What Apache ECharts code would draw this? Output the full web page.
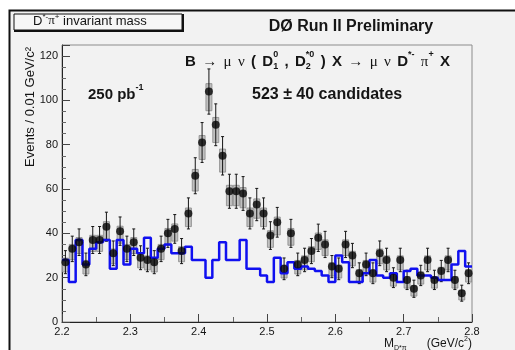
<!DOCTYPE html>
<html>
<head>
<meta charset="utf-8">
<script src="https://cdn.jsdelivr.net/npm/echarts@6/dist/echarts.min.js"></script>
<style>
  html, body { margin: 0; padding: 0; background: #ffffff; }
  #chart { width: 515px; height: 350px; }
</style>
</head>
<body>
<div id="chart"></div>
<script>
// D*- pi+ invariant mass, 60 bins of 0.01 GeV/c^2 from 2.20 to 2.80
const massLow = 2.20;
const binWidth = 0.01;

// Events per bin (data points)
const dataCounts = [
  27, 33, 36, 26, 37, 37, 43, 31, 41, 33,
  36, 29, 28, 27, 33, 40, 42, 32, 49, 66,
  81, 104, 89, 75, 59, 59, 58, 49, 53, 49,
  39, 45, 24, 40, 26, 28, 32, 38, 35, 25,
  24, 35, 30, 22, 26, 22, 31, 28, 20, 28,
  19, 15, 21, 28, 19, 23, 28, 19, 13, 22
];

// Background shape (blue histogram)
const bkgCounts = [
  28, 18, 37, 26, 33, 36, 37, 24, 37, 26,
  33, 31, 38, 29, 33, 35, 31, 31, 34, 28,
  28, 20, 28, 36, 28, 28, 37, 24, 24, 21,
  18, 29, 22, 27, 24, 25, 24, 23, 21, 18,
  30, 27, 18, 18, 22, 28, 21, 20, 22, 18,
  23, 24, 21, 21, 20, 19, 19, 26, 32, 25
];

const xTicks = [2.2, 2.3, 2.4, 2.5, 2.6, 2.7, 2.8];
const yTicks = [0, 20, 40, 60, 80, 100, 120];

const nBins = dataCounts.length;
const binCenter = i => +(massLow + (i + 0.5) * binWidth).toFixed(4);
const binEdge = i => +(massLow + i * binWidth).toFixed(4);

// points with Poisson uncertainty
const pointData = dataCounts.map((n, i) => [binCenter(i), n, Math.sqrt(n)]);
// step outline: value of each bin starting at its lower edge, closed at the upper edge
const stepData = bkgCounts.map((n, i) => [binEdge(i), n]);
stepData.push([binEdge(nBins), bkgCounts[nBins - 1]]);

const INK = '#151515';
const SANS = '"Liberation Sans", Arial, sans-serif';
const SERIF = '"Liberation Serif", "Times New Roman", serif';

// Lays out a run of text pieces (with super/subscripts) as graphic text elements.
// Pieces flagged with g get an equal share of the leftover space in front of them
// when a total width is requested.
const measureCtx = document.createElement('canvas').getContext('2d');
function fontStr(p) {
  return (p.weight || 'bold') + ' ' + p.size + 'px ' + (p.family || SANS);
}
function richRun(pieces, x0, y, width, z) {
  const widths = pieces.map(p => { measureCtx.font = fontStr(p); return measureCtx.measureText(p.t).width; });
  let nat = 0, lastW = 0, gaps = 0;
  pieces.forEach((p, i) => {
    if (p.stack) { const adv = Math.max(lastW, widths[i]); nat += adv - lastW; lastW = adv; }
    else { nat += widths[i]; lastW = widths[i]; }
    if (p.g) gaps++;
  });
  const extra = width && gaps ? Math.max(0, (width - nat) / gaps) : 0;
  let x = x0, prevX = x0, prevW = 0;
  const out = [];
  pieces.forEach((p, i) => {
    const w = widths[i];
    let px;
    if (p.stack) {
      px = prevX;
      const adv = Math.max(prevW, w);
      x = prevX + adv;
      prevW = adv;
    } else {
      if (p.g) x += extra;
      px = x; prevX = x; prevW = w; x += w;
    }
    out.push({
      type: 'text', x: px, y: y + (p.dy || 0), z: z || 10, silent: true,
      style: { text: p.t, font: fontStr(p), fill: INK, textAlign: 'left', textVerticalAlign: 'middle', verticalAlign: 'middle' }
    });
  });
  return out;
}

const big = 15, sm = 9, up = -7, dn = 5;
const formula = richRun([
  { t: 'B', size: big },
  { t: '\u2192', size: big, weight: 'normal', family: SERIF, g: 1 },
  { t: '\u03bc', size: big, weight: 'normal', family: SERIF, g: 1 },
  { t: '\u03bd', size: big, weight: 'normal', family: SERIF, g: 1 },
  { t: '(', size: big, g: 1 },
  { t: 'D', size: big, g: 1 },
  { t: '0', size: sm, dy: up },
  { t: '1', size: sm, dy: dn, stack: true },
  { t: ',', size: big, g: 1 },
  { t: 'D', size: big, g: 1 },
  { t: '*0', size: sm, dy: up },
  { t: '2', size: sm, dy: dn, stack: true },
  { t: ')', size: big, g: 1 },
  { t: 'X', size: big, g: 1 },
  { t: '\u2192', size: big, weight: 'normal', family: SERIF, g: 1 },
  { t: '\u03bc', size: big, weight: 'normal', family: SERIF, g: 1 },
  { t: '\u03bd', size: big, weight: 'normal', family: SERIF, g: 1 },
  { t: 'D', size: big, g: 1 },
  { t: '*-', size: sm, dy: up },
  { t: '\u03c0', size: big, weight: 'normal', family: SERIF, g: 1 },
  { t: '+', size: sm, dy: up },
  { t: 'X', size: big, g: 1 }
], 185, 62, 265);

const lumi = richRun([
  { t: '250 pb', size: 15 },
  { t: '-1', size: 9, dy: -7 }
], 88, 95);

const boxTitle = richRun([
  { t: 'D', size: 13, weight: 'normal' },
  { t: '*-', size: 8, weight: 'normal', dy: -4 },
  { t: '\u03c0', size: 13, weight: 'normal', family: SERIF },
  { t: '+', size: 8, weight: 'normal', dy: -4 },
  { t: ' invariant mass', size: 13, weight: 'normal' }
], 33, 21, 0, 12);

const xTitle = richRun([
  { t: 'M', size: 12, weight: 'normal' },
  { t: 'D*\u03c0', size: 7, weight: 'normal', dy: 4 },
  { t: '(GeV/c', size: 12, weight: 'normal', g: 1 },
  { t: '2', size: 7, weight: 'normal', dy: -5 },
  { t: ')', size: 12, weight: 'normal' }
], 384, 344, 88);

const chart = echarts.init(document.getElementById('chart'), null, { renderer: 'canvas' });

chart.setOption({
  animation: false,
  backgroundColor: '#ffffff',
  grid: { left: 62, right: 43, top: 45, bottom: 28, show: true, borderColor: '#8c8c8c', borderWidth: 1, backgroundColor: 'transparent' },
  xAxis: {
    type: 'value', min: xTicks[0], max: xTicks[xTicks.length - 1], interval: 0.1,
    axisLine: { show: true, onZero: false, lineStyle: { color: '#222', width: 1 } },
    axisTick: { show: true, inside: true, length: 8, lineStyle: { color: '#444' } },
    minorTick: { show: true, splitNumber: 2, length: 5, lineStyle: { color: '#666' } },
    splitLine: { show: false },
    axisLabel: { margin: 4, fontSize: 11, fontFamily: SANS, color: INK, formatter: v => v.toFixed(1) }
  },
  yAxis: {
    type: 'value', min: yTicks[0], max: 125, interval: 20,
    axisLine: { show: true, onZero: false, lineStyle: { color: '#222', width: 1 } },
    axisTick: { show: true, inside: true, length: 8, lineStyle: { color: '#444' } },
    minorTick: { show: true, splitNumber: 4, length: 4, lineStyle: { color: '#666' } },
    splitLine: { show: false },
    axisLabel: {
      margin: 4, fontSize: 11, fontFamily: SANS, color: INK, showMaxLabel: false,
      formatter: v => (yTicks.indexOf(v) >= 0 ? String(v) : '')
    }
  },
  graphic: [
    // panel background with frame on the top and left
    { type: 'rect', z: -100, silent: true, shape: { x: 9.5, y: 10.5, width: 530, height: 360 },
      style: { fill: '#f2f2f2', stroke: '#111', lineWidth: 2 } },
    // histogram title box
    { type: 'rect', z: 11, silent: true, shape: { x: 14, y: 14, width: 168, height: 16 },
      style: { fill: '#f6f6f6', stroke: '#111', lineWidth: 1 } },
    { type: 'polyline', z: 11, silent: true, shape: { points: [[183, 14], [183, 31], [14, 31]] },
      style: { stroke: '#111', lineWidth: 2, fill: null } },
    ...boxTitle,
    { type: 'text', x: 351, y: 27, z: 10, silent: true,
      style: { text: 'D\u00d8 Run II Preliminary', font: 'bold 16px ' + SANS, fill: INK, textAlign: 'center', textVerticalAlign: 'middle', verticalAlign: 'middle' } },
    ...formula,
    ...lumi,
    { type: 'text', x: 252, y: 95, z: 10, silent: true,
      style: { text: '523 \u00b1 40 candidates', font: 'bold 16px ' + SANS, fill: INK, textAlign: 'left', textVerticalAlign: 'middle', verticalAlign: 'middle' } },
    { type: 'text', x: 30, y: 47, z: 10, rotation: Math.PI / 2, silent: true,
      style: { text: 'Events / 0.01 GeV/c\u00b2', font: '13px ' + SANS, fill: INK, textAlign: 'right', textVerticalAlign: 'middle', verticalAlign: 'middle' } },
    ...xTitle
  ],
  series: [
    {
      type: 'custom',
      name: 'errors',
      z: 3,
      data: pointData,
      encode: { x: 0, y: 1 },
      renderItem: (params, api) => {
        const x = api.value(0), y = api.value(1), e = api.value(2);
        const c = api.coord([x, y]);
        const top = api.coord([x, y + e])[1];
        const bot = api.coord([x, y - e])[1];
        const bTop = api.coord([x, y + 0.35 * e])[1];
        const bBot = api.coord([x, y - 0.85 * e])[1];
        return {
          type: 'group',
          children: [
            { type: 'rect', shape: { x: c[0] - 3, y: bTop, width: 6, height: bBot - bTop },
              style: { fill: '#c0c0c0', stroke: '#888888', lineWidth: 0.8 } },
            { type: 'line', shape: { x1: c[0], y1: top, x2: c[0], y2: bot }, style: { stroke: '#151515', lineWidth: 1 } },
            { type: 'line', shape: { x1: c[0] - 1.5, y1: top, x2: c[0] + 1.5, y2: top }, style: { stroke: '#151515', lineWidth: 1 } },
            { type: 'line', shape: { x1: c[0] - 1.5, y1: bot, x2: c[0] + 1.5, y2: bot }, style: { stroke: '#151515', lineWidth: 1 } }
          ]
        };
      }
    },
    {
      type: 'line',
      name: 'background',
      z: 4,
      step: 'end',
      data: stepData,
      showSymbol: false,
      lineStyle: { color: '#1010f0', width: 2.5 },
      silent: true
    },
    {
      type: 'scatter',
      name: 'data',
      z: 5,
      data: pointData.map(d => [d[0], d[1]]),
      symbol: 'circle',
      symbolSize: 8,
      itemStyle: { color: '#050505' },
      silent: true
    }
  ]
});
</script>
</body>
</html>
